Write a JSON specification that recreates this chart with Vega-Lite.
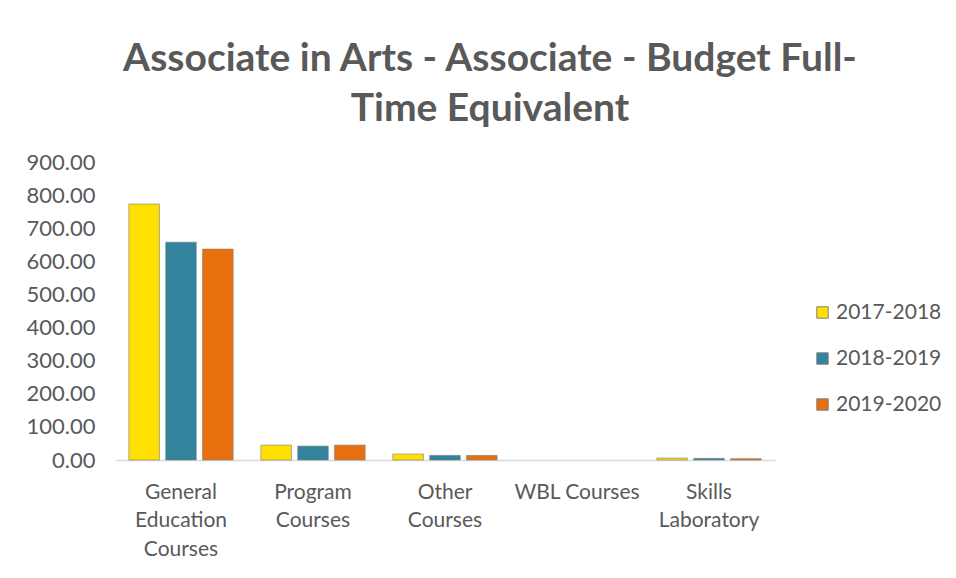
{
  "$schema": "https://vega.github.io/schema/vega-lite/v6.json",
  "autosize": "none",
  "width": 660,
  "height": 298,
  "padding": {"left": 115, "top": 162, "right": 181, "bottom": 118},
  "background": "white",
  "config": {
    "font": "Lato",
    "view": {"stroke": null},
    "axis": {"labelColor": "#595959", "labelFont": "Lato", "labelFontSize": 21, "grid": false, "ticks": false, "title": null},
    "legend": {"labelColor": "#595959", "labelFont": "Lato", "labelFontSize": 21}
  },
  "title": {
    "text": ["Associate in Arts - Associate - Budget Full-", "Time Equivalent"],
    "fontSize": 39,
    "fontWeight": "bold",
    "color": "#595959",
    "font": "Lato",
    "anchor": "middle",
    "dx": 45,
    "offset": 22,
    "lineHeight": 50
  },
  "data": {
    "values": [
      {"category": "General Education Courses", "year": "2017-2018", "fte": 773},
      {"category": "General Education Courses", "year": "2018-2019", "fte": 658},
      {"category": "General Education Courses", "year": "2019-2020", "fte": 637},
      {"category": "Program Courses", "year": "2017-2018", "fte": 45},
      {"category": "Program Courses", "year": "2018-2019", "fte": 42},
      {"category": "Program Courses", "year": "2019-2020", "fte": 45},
      {"category": "Other Courses", "year": "2017-2018", "fte": 18},
      {"category": "Other Courses", "year": "2018-2019", "fte": 14},
      {"category": "Other Courses", "year": "2019-2020", "fte": 14},
      {"category": "WBL Courses", "year": "2017-2018", "fte": 0},
      {"category": "WBL Courses", "year": "2018-2019", "fte": 0},
      {"category": "WBL Courses", "year": "2019-2020", "fte": 0},
      {"category": "Skills Laboratory", "year": "2017-2018", "fte": 6},
      {"category": "Skills Laboratory", "year": "2018-2019", "fte": 5},
      {"category": "Skills Laboratory", "year": "2019-2020", "fte": 4}
    ]
  },
  "mark": {"type": "bar", "stroke": "#7f7f7f", "strokeWidth": 1},
  "encoding": {
    "x": {
      "field": "category",
      "type": "nominal",
      "sort": null,
      "scale": {"paddingInner": 0.21, "paddingOuter": 0.105},
      "axis": {
        "labelAngle": 0,
        "labelPadding": 21,
        "labelLineHeight": 28.5,
        "domainColor": "#d9d9d9",
        "domainWidth": 1.5,
        "labelExpr": "datum.value == 'WBL Courses' ? datum.value : split(datum.value, ' ')"
      }
    },
    "xOffset": {"field": "year", "type": "nominal", "scale": {"paddingInner": 0.17}},
    "y": {
      "field": "fte",
      "type": "quantitative",
      "scale": {"domain": [0, 900]},
      "axis": {"values": [0, 100, 200, 300, 400, 500, 600, 700, 800, 900], "format": ".2f", "labelPadding": 20, "labelFontSize": 22, "domain": false}
    },
    "strokeOpacity": {"condition": {"test": "datum.fte == 0", "value": 0}, "value": 0.6},
    "color": {
      "field": "year",
      "type": "nominal",
      "scale": {"domain": ["2017-2018", "2018-2019", "2019-2020"], "range": ["#FFE000", "#31849B", "#E8700E"]},
      "legend": {
        "title": null,
        "orient": "none",
        "legendX": 697,
        "legendY": 140,
        "symbolType": "square",
        "symbolSize": 130,
        "symbolStrokeColor": "#7f7f7f",
        "symbolStrokeWidth": 1,
        "rowPadding": 24,
        "labelOffset": 3
      }
    }
  }
}
